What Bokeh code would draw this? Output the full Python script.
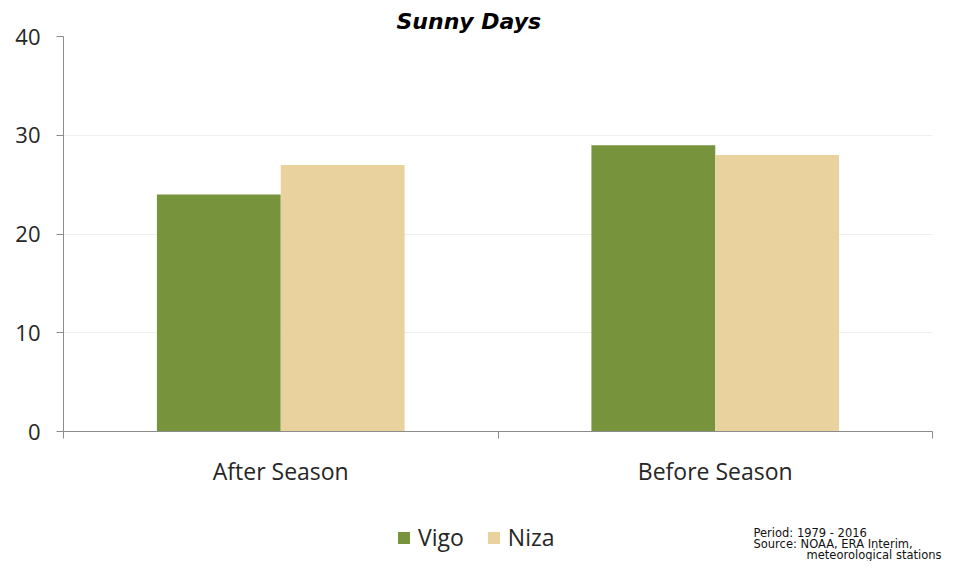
from bokeh.plotting import figure
from bokeh.models import Range1d, FixedTicker, Legend, LegendItem, Label, ColumnDataSource
from bokeh.layouts import column
from bokeh.embed import file_html
from bokeh.resources import INLINE

categories = ["After Season", "Before Season"]
series_names = ["Vigo", "Niza"]
vigo = [24, 29]
niza = [27, 28]
y_ticks = [0, 10, 20, 30, 40]
colors = ["#77933C", "#EAD29E"]
source_lines = ["Period: 1979 - 2016", "Source: NOAA, ERA Interim,", "meteorological stations"]

W, H1, H2 = 943, 498, 63
font = "Open Sans"
p = figure(width=W, height=H1, output_backend="svg", toolbar_location=None,
           x_range=Range1d(0, len(categories)), y_range=Range1d(0, 40),
           min_border_left=63, min_border_right=11, min_border_top=36, min_border_bottom=67)
p.outline_line_color = None
p.title.text = "Sunny Days"
p.title.align = "left"
p.title.offset = 333
p.title.standoff = 6
p.title.text_font = "DejaVu Sans"
p.title.text_font_style = "bold italic"
p.title.text_font_size = "22px"
p.title.text_color = "black"

bw = 0.285
centers = [i + 0.5 for i in range(len(categories))]
sources = []
for k, (vals, col) in enumerate(zip([vigo, niza], colors)):
    off = (k - 0.5) * bw
    src = ColumnDataSource(dict(x=[c + off for c in centers], top=vals))
    sources.append(src)
    p.vbar(x="x", top="top", width=bw, source=src, fill_color=col, line_color=None)

xa = p.xaxis[0]
xa.ticker = FixedTicker(ticks=centers, minor_ticks=list(range(len(categories) + 1)))
xa.major_label_overrides = {c: n for c, n in zip(centers, categories)}
xa.major_tick_line_color = None
xa.major_tick_out = 0
xa.minor_tick_out = 7
xa.minor_tick_in = 0
xa.minor_tick_line_color = "#8c8c8c"
xa.axis_line_color = "#8c8c8c"
xa.major_label_standoff = 16
xa.major_label_text_font = font
xa.major_label_text_font_size = "23px"
xa.major_label_text_color = "#262626"

ya = p.yaxis[0]
ya.ticker = FixedTicker(ticks=y_ticks)
ya.minor_tick_line_color = None
ya.major_tick_out = 7
ya.major_tick_in = 0
ya.major_tick_line_color = "#8c8c8c"
ya.axis_line_color = "#8c8c8c"
ya.major_label_standoff = 16
ya.major_label_text_font = font
ya.major_label_text_font_size = "22px"
ya.major_label_text_color = "#262626"

p.xgrid.grid_line_color = None
p.ygrid.grid_line_color = "#efefef"

# bottom strip: legend and source note
q = figure(width=W, height=H2, output_backend="svg", toolbar_location=None,
           x_axis_type=None, y_axis_type=None, x_range=Range1d(0, 1), y_range=Range1d(0, 1),
           min_border=0)
q.frame_align = False
q.outline_line_color = None
q.grid.visible = False
rs = []
for src, col in zip(sources, colors):
    rs.append(q.vbar(x="x", top="top", width=0.1, source=src, fill_color=col,
                     line_color=None, visible=False))

legend = Legend(items=[LegendItem(label=n, renderers=[r]) for n, r in zip(series_names, rs)],
                orientation="horizontal", location=(396, 8),
                label_text_font=font, label_text_font_size="23px", label_text_color="#262626",
                glyph_width=15, glyph_height=15, spacing=22, label_standoff=7,
                padding=0, margin=0, border_line_color=None, background_fill_alpha=0,
                inactive_fill_alpha=0)
q.add_layout(legend, "center")

xs = [753, 753, 941]
aligns = ["left", "left", "right"]
ys = [29, 18, 7]
for t, xx, yy, al in zip(source_lines, xs, ys, aligns):
    q.add_layout(Label(x=xx, y=yy, x_units="screen", y_units="screen", text=t,
                       text_font="DejaVu Sans", text_font_size="11.5px", text_baseline="alphabetic",
                       text_align=al, text_color="#111111"))

layout = column(p, q, spacing=0)
open("out.html", "w").write(file_html(layout, INLINE))
